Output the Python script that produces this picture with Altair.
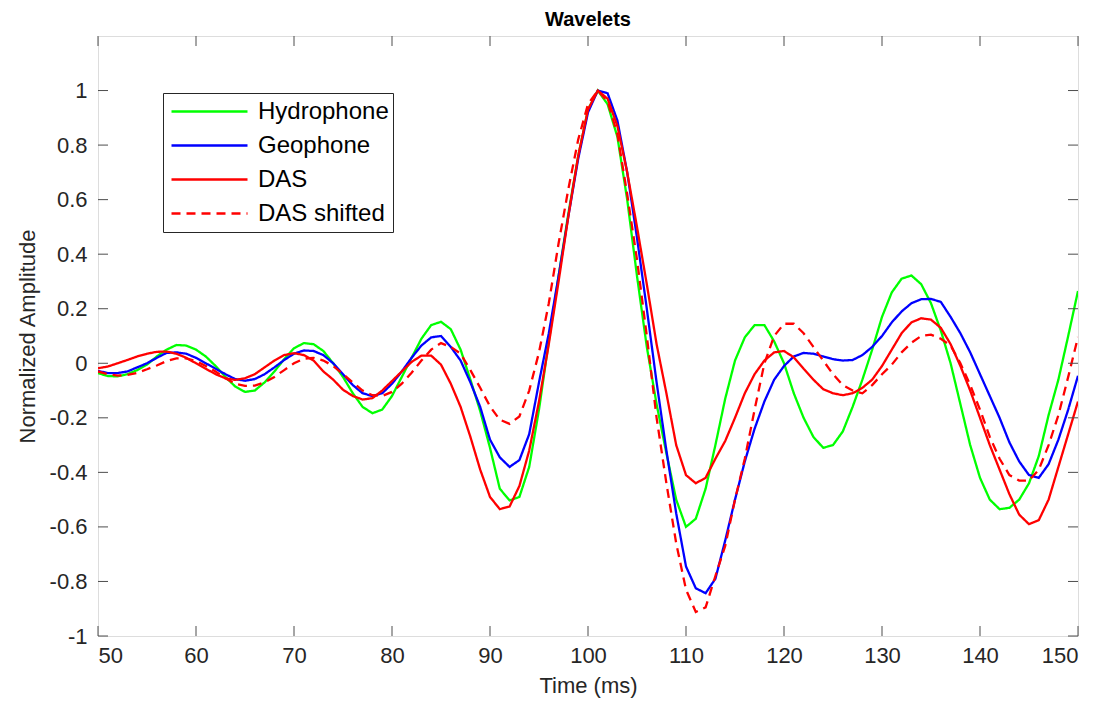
import altair as alt
import pandas as pd

# ---- data ----
time_ms = list(range(50, 151))

hydrophone = [
    -0.036, -0.047, -0.048, -0.040, -0.025, -0.005, 0.025, 0.050, 0.067, 0.065,   # 50-59
    0.050, 0.025, -0.010, -0.050, -0.085, -0.105, -0.100, -0.070, -0.030, 0.015,  # 60-69
    0.055, 0.074, 0.070, 0.045, 0.000, -0.050, -0.110, -0.160, -0.183, -0.170,    # 70-79
    -0.120, -0.050, 0.020, 0.090, 0.140, 0.152, 0.125, 0.050, -0.060, -0.175,     # 80-89
    -0.310, -0.460, -0.503, -0.490, -0.380, -0.170, 0.080, 0.320, 0.550, 0.760,   # 90-99
    0.930, 1.000, 0.950, 0.830, 0.600, 0.320, 0.060, -0.150, -0.330, -0.500,      # 100-109
    -0.600, -0.570, -0.460, -0.300, -0.130, 0.010, 0.095, 0.140, 0.140, 0.080,    # 110-119
    0.000, -0.110, -0.200, -0.270, -0.310, -0.300, -0.250, -0.160, -0.060, 0.050, # 120-129
    0.170, 0.260, 0.310, 0.322, 0.290, 0.220, 0.120, 0.000, -0.150, -0.300,       # 130-139
    -0.420, -0.500, -0.535, -0.530, -0.500, -0.440, -0.340, -0.190, -0.060, 0.100,# 140-149
    0.265,
]

geophone = [
    -0.028, -0.036, -0.036, -0.030, -0.015, 0.000, 0.020, 0.038, 0.040, 0.035,   # 50-59
    0.020, 0.000, -0.020, -0.040, -0.058, -0.064, -0.058, -0.040, -0.015, 0.012,  # 60-69
    0.035, 0.047, 0.045, 0.030, 0.000, -0.040, -0.080, -0.110, -0.120, -0.110,    # 70-79
    -0.075, -0.030, 0.020, 0.065, 0.095, 0.100, 0.060, 0.010, -0.070, -0.160,     # 80-89
    -0.280, -0.345, -0.380, -0.355, -0.260, -0.070, 0.110, 0.320, 0.540, 0.750,   # 90-99
    0.920, 1.000, 0.990, 0.890, 0.700, 0.460, 0.200, -0.070, -0.320, -0.550,      # 100-109
    -0.745, -0.825, -0.843, -0.790, -0.650, -0.500, -0.360, -0.240, -0.140, -0.060,# 110-119
    -0.010, 0.025, 0.038, 0.035, 0.025, 0.015, 0.010, 0.012, 0.030, 0.060,        # 120-129
    0.100, 0.150, 0.190, 0.220, 0.235, 0.236, 0.225, 0.170, 0.110, 0.040,         # 130-139
    -0.040, -0.120, -0.200, -0.290, -0.360, -0.410, -0.420, -0.370, -0.280, -0.170,# 140-149
    -0.046,
]

das = [
    -0.018, -0.012, 0.000, 0.012, 0.025, 0.035, 0.042, 0.043, 0.035, 0.020,      # 50-59
    0.000, -0.020, -0.040, -0.055, -0.061, -0.055, -0.040, -0.015, 0.010, 0.030,  # 60-69
    0.037, 0.030, 0.010, -0.030, -0.060, -0.097, -0.120, -0.133, -0.128, -0.100,  # 70-79
    -0.065, -0.030, 0.005, 0.028, 0.028, -0.005, -0.075, -0.160, -0.270, -0.390,  # 80-89
    -0.490, -0.535, -0.525, -0.450, -0.320, -0.140, 0.070, 0.300, 0.540, 0.760,   # 90-99
    0.930, 1.000, 0.970, 0.870, 0.700, 0.500, 0.290, 0.070, -0.110, -0.300,       # 100-109
    -0.410, -0.440, -0.420, -0.350, -0.285, -0.200, -0.110, -0.040, 0.010, 0.040, # 110-119
    0.045, 0.022, -0.020, -0.060, -0.095, -0.110, -0.117, -0.110, -0.090, -0.060, # 120-129
    -0.010, 0.050, 0.110, 0.150, 0.165, 0.160, 0.130, 0.070, -0.010, -0.100,      # 130-139
    -0.200, -0.300, -0.390, -0.480, -0.555, -0.590, -0.575, -0.500, -0.380, -0.260,# 140-149
    -0.140,
]

das_shifted = [
    -0.030, -0.040, -0.045, -0.043, -0.035, -0.022, -0.008, 0.008, 0.018, 0.018,  # 50-59
    0.008, -0.010, -0.030, -0.055, -0.075, -0.083, -0.082, -0.070, -0.050, -0.025,# 60-69
    0.000, 0.017, 0.020, 0.010, -0.010, -0.040, -0.070, -0.100, -0.117, -0.120,   # 70-79
    -0.105, -0.075, -0.035, 0.010, 0.050, 0.074, 0.060, 0.035, -0.025, -0.090,    # 80-89
    -0.158, -0.207, -0.222, -0.195, -0.100, 0.040, 0.220, 0.440, 0.640, 0.820,    # 90-99
    0.950, 1.000, 0.960, 0.840, 0.620, 0.380, 0.100, -0.200, -0.440, -0.660,      # 100-109
    -0.830, -0.912, -0.895, -0.780, -0.670, -0.500, -0.350, -0.170, 0.000, 0.100, # 110-119
    0.145, 0.145, 0.110, 0.060, 0.010, -0.040, -0.080, -0.100, -0.110, -0.080,    # 120-129
    -0.040, -0.005, 0.040, 0.075, 0.100, 0.105, 0.090, 0.065, 0.000, -0.080,      # 130-139
    -0.170, -0.270, -0.350, -0.410, -0.430, -0.430, -0.390, -0.300, -0.190, -0.050,# 140-149
    0.096,
]

series_names = ["Hydrophone", "Geophone", "DAS", "DAS shifted"]
series_values = [hydrophone, geophone, das, das_shifted]
series_colors = ["#00ff00", "#0000ff", "#ff0000", "#ff0000"]
series_dashes = [[1, 0], [1, 0], [1, 0], [9, 6]]

x_ticks = [50, 60, 70, 80, 90, 100, 110, 120, 130, 140, 150]
y_ticks = [-1, -0.8, -0.6, -0.4, -0.2, 0, 0.2, 0.4, 0.6, 0.8, 1]

# ---- build table ----
rows = []
for order, (name, vals) in enumerate(zip(series_names, series_values)):
    for t, v in zip(time_ms, vals):
        rows.append({"t": t, "v": v, "series": name, "order": order})
df = pd.DataFrame(rows)
xt = pd.DataFrame({"t": x_ticks})
yt = pd.DataFrame({"v": y_ticks})

W, H = 980, 600
FONT = "Liberation Sans"
TXT = "#262626"
AXC = "#4d4d4d"

xscale = alt.Scale(domain=[50, 150], nice=False, zero=False)
yscale = alt.Scale(domain=[-1, 1.2], nice=False, zero=False)

legend_cfg = dict(orient="none", legendX=65, legendY=57, title=None,
                  symbolType="stroke", symbolSize=5776, symbolStrokeWidth=2.3,
                  labelFontSize=24, labelFont=FONT, labelColor="#000000",
                  strokeColor="#262626", fillColor="white", padding=4,
                  clipHeight=29, rowPadding=5, labelOffset=9, symbolOffset=3)

lines = alt.Chart(df).mark_line(strokeWidth=2.3, clip=True).encode(
    x=alt.X("t:Q", scale=xscale,
            axis=alt.Axis(values=x_ticks, title="Time (ms)", ticks=False, domain=False, grid=False,
                          labelFontSize=22, titleFontSize=22, labelPadding=9, titlePadding=9,
                          labelFont=FONT, titleFont=FONT, labelColor=TXT, titleColor=TXT,
                          titleFontWeight="normal")),
    y=alt.Y("v:Q", scale=yscale,
            axis=alt.Axis(values=y_ticks, title="Normalized Amplitude", ticks=False, domain=False,
                          grid=False, labelExpr="'' + datum.value",
                          labelFontSize=22, titleFontSize=22, labelPadding=11, titlePadding=10,
                          labelFont=FONT, titleFont=FONT, labelColor=TXT, titleColor=TXT,
                          titleFontWeight="normal")),
    color=alt.Color("series:N", scale=alt.Scale(domain=series_names, range=series_colors),
                    legend=alt.Legend(**legend_cfg)),
    strokeDash=alt.StrokeDash("series:N", scale=alt.Scale(domain=series_names, range=series_dashes),
                              legend=alt.Legend(**legend_cfg)),
    order=alt.Order("order:Q"),
    detail="series:N",
)

tick_len = 10
bottom_ticks = alt.Chart(xt).mark_rule(color=AXC, strokeWidth=1).encode(
    x=alt.X("t:Q", scale=xscale), y=alt.value(H), y2=alt.value(H - tick_len))
top_ticks = alt.Chart(xt).mark_rule(color=AXC, strokeWidth=1).encode(
    x=alt.X("t:Q", scale=xscale), y=alt.value(0), y2=alt.value(tick_len))
left_ticks = alt.Chart(yt).mark_rule(color=AXC, strokeWidth=1).encode(
    y=alt.Y("v:Q", scale=yscale), x=alt.value(0), x2=alt.value(tick_len))
right_ticks = alt.Chart(yt).mark_rule(color=AXC, strokeWidth=1).encode(
    y=alt.Y("v:Q", scale=yscale), x=alt.value(W), x2=alt.value(W - tick_len))

chart = alt.layer(lines, bottom_ticks, top_ticks, left_ticks, right_ticks).properties(
    width=W, height=H,
    title=alt.Title("Wavelets", fontSize=20, fontWeight="bold", font=FONT, color="#000000",
                    anchor="middle", offset=6),
    autosize=alt.AutoSizeParams(type="none"),
    padding={"left": 90, "top": 28, "right": 25, "bottom": 71},
).configure_view(stroke=AXC, strokeWidth=1).configure(background="white")

chart.save("out.html", embed_options={"renderer": "svg", "actions": False})
